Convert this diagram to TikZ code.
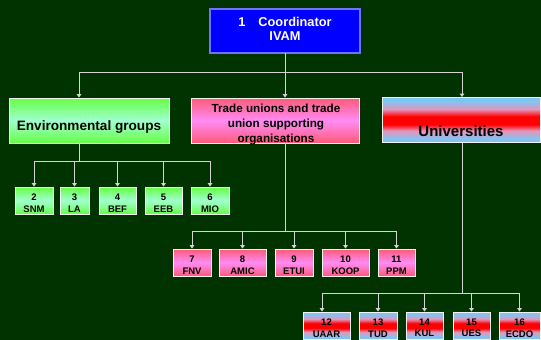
\documentclass[tikz,border=0pt]{standalone}
\usepackage{fontspec}
\setmainfont{Liberation Sans}
\usetikzlibrary{arrows.meta}
\definecolor{bg}{HTML}{003300}
\definecolor{ln}{HTML}{D4D4D4}
\definecolor{envG}{HTML}{66FF44}
\definecolor{envL}{HTML}{A0FFD0}
\definecolor{trR}{HTML}{FF5A78}
\definecolor{trP}{HTML}{FF8CF5}
\definecolor{unB}{HTML}{80C4F2}
\definecolor{unP}{HTML}{E496BC}
\definecolor{unR}{HTML}{FF0000}
\definecolor{topB}{HTML}{0000FF}
\pgfdeclareverticalshading{unishade}{100bp}{%
  color(0bp)=(unB); color(25bp)=(unB); color(29bp)=(unB); color(38bp)=(unP);
  color(45bp)=(unR); color(54bp)=(unR); color(62bp)=(unP); color(71bp)=(unB);
  color(75bp)=(unB); color(100bp)=(unB)}
\tikzset{
  boxbase/.style={draw=white!90!gray, line width=0.8pt, inner sep=0pt, font=\bfseries},
  envshade/.style={top color=envG, bottom color=envG, middle color=envL},
  trshade/.style={top color=trR, bottom color=trR, middle color=trP},
  unshade/.style={shading=unishade},
  bigbox/.style={boxbase, minimum height=45pt},
  smallbox/.style={boxbase, minimum height=27pt},
  boxlbl/.style={align=center, inner sep=0pt, yshift=-2.5pt,
    font=\fontsize{9.5}{11.5}\selectfont\bfseries},
  boxtext/.style={label={[boxlbl]center:#1}},
  conn/.style={draw=ln, line width=0.8pt},
  arr/.style={conn, -{Triangle[width=4.5pt,length=3.5pt]}},
}
\begin{document}
\begin{tikzpicture}[x=1pt,y=-1pt]
\fill[bg] (0,0) rectangle (541,340);
\useasboundingbox (0,0) rectangle (541,340);

% top
\node[draw=white!85!blue, double=blue!55!white, double distance=1.2pt, line width=0.7pt,
      fill=topB, minimum width=150pt, minimum height=44pt, inner sep=0pt] (top) at (285,31) {};
\node[text=white, font=\fontsize{12.8}{14}\selectfont\bfseries, align=center] (toptext) at (285,29)
  {1\hspace{13pt}Coordinator\\IVAM};

% level 1
\node[bigbox, envshade, minimum width=160pt] (env) at (89,120.5) {};
\node[font=\fontsize{13.6}{16}\selectfont\bfseries] (envtext) at (89,127) {Environmental groups};
\node[bigbox, trshade, minimum width=168pt] (trade) at (275,120.5) {};
\node[font=\fontsize{11.7}{15}\selectfont\bfseries, align=center] (tradetext) at (276,124)
  {Trade unions and trade\\union supporting\\organisations};
\node[bigbox, unshade, minimum width=158pt] (univ) at (461,120) {};
\node[font=\fontsize{15}{17}\selectfont\bfseries] (univtext) at (461,131) {Universities};

% level 2 env
\node[smallbox, envshade, minimum width=38pt, boxtext={2\\SNM}] (b2) at (34,200.5) {};
\node[smallbox, envshade, minimum width=29pt, boxtext={3\\LA}] (b3) at (74.5,200.5) {};
\node[smallbox, envshade, minimum width=37pt, boxtext={4\\BEF}] (b4) at (117.5,200.5) {};
\node[smallbox, envshade, minimum width=37pt, boxtext={5\\EEB}] (b5) at (163.5,200.5) {};
\node[smallbox, envshade, minimum width=38pt, boxtext={6\\MIO}] (b6) at (210,200.5) {};

% level 2 trade
\node[smallbox, trshade, minimum width=38pt, boxtext={7\\FNV}] (b7) at (192,262.5) {};
\node[smallbox, trshade, minimum width=47pt, boxtext={8\\AMIC}] (b8) at (242.5,262.5) {};
\node[smallbox, trshade, minimum width=38pt, boxtext={9\\ETUI}] (b9) at (294,262.5) {};
\node[smallbox, trshade, minimum width=47pt, boxtext={10\\KOOP}] (b10) at (345.5,262.5) {};
\node[smallbox, trshade, minimum width=37pt, boxtext={11\\PPM}] (b11) at (396.5,262.5) {};

% level 2 univ
\node[smallbox, unshade, minimum width=47pt, boxtext={12\\UAAR}] (b12) at (326.5,325.5) {};
\node[smallbox, unshade, minimum width=38pt, boxtext={13\\TUD}] (b13) at (378,325.5) {};
\node[smallbox, unshade, minimum width=37pt, boxtext={14\\KUL}] (b14) at (424.5,325.5) {};
\node[smallbox, unshade, minimum width=37pt, boxtext={15\\UES}] (b15) at (471.5,325.5) {};
\node[smallbox, unshade, minimum width=41pt, boxtext={16\\ECDO}] (b16) at (519.5,325.5) {};

% connectors top
\coordinate (h0) at (285,72);
\draw[conn] (top.south) -- (h0);
\draw[arr] (h0) -| ([xshift=-10pt]env.north);
\draw[arr] (h0) -- (h0 |- trade.north);
\draw[arr] (h0) -| ([xshift=1pt]univ.north);

% env children
\coordinate (h1) at (79,161);
\draw[conn] (h1 |- env.south) -- (h1);
\foreach \b in {b2,b3,b4,b5,b6} \draw[arr] (h1) -| (\b.north);

% trade children
\coordinate (h2) at (285,231);
\draw[conn] (h2 |- trade.south) -- (h2);
\foreach \b in {b7,b8,b9,b10,b11} \draw[arr] (h2) -| (\b.north);

% univ children
\coordinate (h3) at (462,293);
\draw[conn] (h3 |- univ.south) -- (h3);
\draw[arr] (h3) -| ([xshift=-4.5pt]b12.north);
\foreach \b in {b13,b14,b15,b16} \draw[arr] (h3) -| (\b.north);
\end{tikzpicture}
\end{document}
